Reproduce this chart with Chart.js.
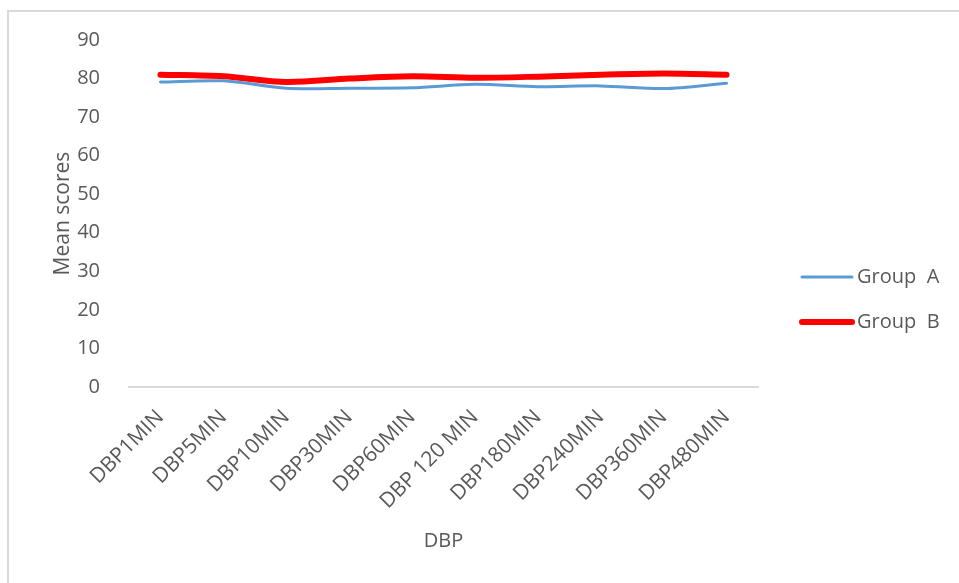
<!DOCTYPE html>
<html>
<head>
<meta charset="utf-8">
<script src="https://cdn.jsdelivr.net/npm/chart.js@4.4.1/dist/chart.umd.min.js"></script>
<style>
  html, body { margin: 0; padding: 0; background: #fff; }
  #wrap { width: 959px; height: 583px; position: relative; }
</style>
</head>
<body>
<div id="wrap"><canvas id="chart"></canvas></div>
<script>
// data
var categories = ['DBP1MIN', 'DBP5MIN', 'DBP10MIN', 'DBP30MIN', 'DBP60MIN', 'DBP 120 MIN', 'DBP180MIN', 'DBP240MIN', 'DBP360MIN', 'DBP480MIN'];
var groupA = [79.1, 79.4, 77.5, 77.5, 77.6, 78.5, 77.9, 78.1, 77.4, 78.8];
var groupB = [81.0, 80.6, 79.1, 80.0, 80.6, 80.2, 80.5, 81.0, 81.3, 81.0];
var seriesNames = ['Group  A', 'Group  B'];
var yTicks = [0, 10, 20, 30, 40, 50, 60, 70, 80, 90];

var textColor = '#595959';
var fontFamily = '"Open Sans", "DejaVu Sans", sans-serif';

Chart.defaults.font.family = fontFamily;
Chart.defaults.color = textColor;

// light frame on the top and left edge, like the original export
var framePlugin = {
  id: 'frame',
  beforeDraw: function (chart) {
    var ctx = chart.ctx;
    ctx.save();
    ctx.strokeStyle = '#d9d9d9';
    ctx.lineWidth = 2;
    ctx.beginPath();
    ctx.moveTo(8, 583);
    ctx.lineTo(8, 11);
    ctx.lineTo(959, 11);
    ctx.stroke();
    ctx.restore();
  }
};

// legend on the right, lower than chart.js would put it
var sideLegend = {
  id: 'sideLegend',
  afterDraw: function (chart) {
    var ctx = chart.ctx;
    var ys = [277, 322];
    ctx.save();
    ctx.font = '20px ' + fontFamily;
    ctx.textBaseline = 'middle';
    ctx.fillStyle = textColor;
    chart.data.datasets.forEach(function (ds, i) {
      ctx.strokeStyle = ds.borderColor;
      ctx.lineWidth = ds.borderWidth;
      ctx.lineCap = 'round';
      ctx.beginPath();
      ctx.moveTo(802, ys[i]);
      ctx.lineTo(852, ys[i]);
      ctx.stroke();
      ctx.fillText(ds.label, 857, ys[i]);
    });
    ctx.restore();
  }
};

new Chart(document.getElementById('chart'), {
  type: 'line',
  data: {
    labels: categories,
    datasets: [
      {
        label: seriesNames[0],
        data: groupA,
        borderColor: '#5b9bd5',
        borderWidth: 3,
        pointRadius: 0,
        tension: 0.3,
        borderCapStyle: 'round'
      },
      {
        label: seriesNames[1],
        data: groupB,
        borderColor: '#ff0000',
        borderWidth: 6,
        pointRadius: 0,
        tension: 0.3,
        borderCapStyle: 'round'
      }
    ]
  },
  options: {
    responsive: true,
    maintainAspectRatio: false,
    animation: false,
    layout: { padding: { left: 40, right: 201, top: 40, bottom: 20 } },
    plugins: {
      legend: { display: false },
      tooltip: { enabled: false }
    },
    scales: {
      x: {
        offset: true,
        grid: { display: false },
        border: { display: true, color: '#d9d9d9', width: 2 },
        ticks: { maxRotation: 45, minRotation: 45, padding: 10, font: { size: 21 } },
        title: { display: true, text: 'DBP', font: { size: 20 }, padding: { top: 0, bottom: 10 } },
        afterFit: function (scale) { scale.height = 176; }
      },
      y: {
        min: 0,
        max: 90,
        grid: { display: false },
        border: { display: false },
        afterBuildTicks: function (scale) {
          scale.ticks = yTicks.map(function (v) { return { value: v }; });
        },
        ticks: { padding: 21, font: { size: 20 } },
        title: { display: true, text: 'Mean scores', font: { size: 21 }, padding: { top: 10, bottom: 0 } },
        afterFit: function (scale) { scale.width = 89; }
      }
    }
  },
  plugins: [framePlugin, sideLegend]
});
</script>
</body>
</html>
